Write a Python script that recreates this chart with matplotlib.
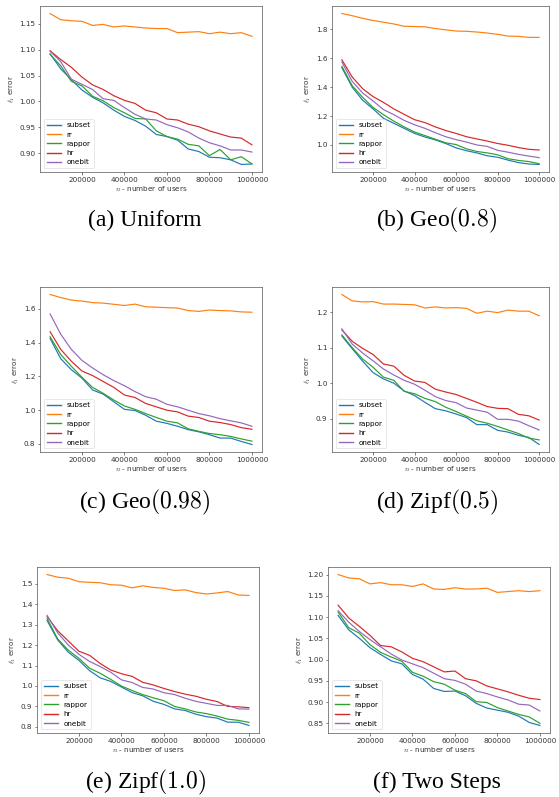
import numpy as np
import matplotlib
matplotlib.use("Agg")
import matplotlib.pyplot as plt
from matplotlib.ticker import ScalarFormatter

plt.rcParams['mathtext.fontset'] = 'cm'

# number of users
n_users = np.arange(50000, 1000001, 50000)
methods = ['subset', 'rr', 'rappor', 'hr', 'onebit']
colors = ['tab:blue', 'tab:orange', 'tab:green', 'tab:red', 'tab:purple']

# (a) Uniform
uniform_subset = [1.092, 1.063, 1.042, 1.022, 1.008, 0.997, 0.983, 0.971, 0.963, 0.952,
                  0.936, 0.932, 0.925, 0.908, 0.903, 0.892, 0.891, 0.887, 0.878, 0.879]
uniform_rr = [1.170, 1.158, 1.156, 1.155, 1.147, 1.149, 1.144, 1.146, 1.144, 1.142,
              1.141, 1.141, 1.133, 1.134, 1.135, 1.131, 1.134, 1.131, 1.133, 1.126]
uniform_rappor = [1.091, 1.069, 1.039, 1.030, 1.010, 1.001, 0.988, 0.978, 0.967, 0.966,
                  0.943, 0.932, 0.927, 0.917, 0.914, 0.895, 0.907, 0.887, 0.893, 0.879]
uniform_hr = [1.098, 1.081, 1.066, 1.047, 1.032, 1.023, 1.011, 1.002, 0.996, 0.983,
              0.978, 0.966, 0.964, 0.956, 0.951, 0.943, 0.937, 0.931, 0.929, 0.916]
uniform_onebit = [1.097, 1.077, 1.043, 1.033, 1.023, 1.005, 1.002, 0.988, 0.975, 0.966,
                  0.964, 0.955, 0.949, 0.941, 0.929, 0.920, 0.914, 0.906, 0.906, 0.902]

# (b) Geo(0.8)
geo08_subset = [1.535, 1.400, 1.310, 1.250, 1.185, 1.150, 1.115, 1.080, 1.055, 1.035,
                1.010, 0.980, 0.960, 0.945, 0.925, 0.915, 0.895, 0.878, 0.868, 0.865]
geo08_rr = [1.910, 1.895, 1.877, 1.862, 1.850, 1.838, 1.822, 1.820, 1.818, 1.806,
            1.797, 1.789, 1.787, 1.782, 1.775, 1.766, 1.754, 1.752, 1.745, 1.745]
geo08_rappor = [1.545, 1.410, 1.330, 1.260, 1.210, 1.165, 1.125, 1.090, 1.065, 1.040,
                1.015, 1.003, 0.973, 0.955, 0.945, 0.932, 0.905, 0.893, 0.885, 0.870]
geo08_hr = [1.590, 1.470, 1.390, 1.335, 1.295, 1.250, 1.212, 1.175, 1.155, 1.125,
            1.100, 1.080, 1.057, 1.042, 1.027, 1.010, 0.998, 0.982, 0.970, 0.965]
geo08_onebit = [1.575, 1.440, 1.360, 1.305, 1.245, 1.210, 1.170, 1.140, 1.115, 1.085,
                1.057, 1.037, 1.020, 1.000, 0.990, 0.963, 0.950, 0.935, 0.923, 0.912]

# (c) Geo(0.98)
geo098_subset = [1.425, 1.305, 1.240, 1.190, 1.120, 1.095, 1.050, 1.005, 0.998, 0.970,
                 0.935, 0.922, 0.905, 0.885, 0.872, 0.855, 0.835, 0.835, 0.815, 0.797]
geo098_rr = [1.685, 1.667, 1.652, 1.646, 1.637, 1.634, 1.627, 1.620, 1.628, 1.612,
             1.610, 1.607, 1.605, 1.590, 1.585, 1.593, 1.590, 1.588, 1.582, 1.580]
geo098_rappor = [1.435, 1.330, 1.260, 1.195, 1.135, 1.100, 1.060, 1.025, 1.005, 0.980,
                 0.957, 0.935, 0.925, 0.890, 0.875, 0.862, 0.855, 0.845, 0.830, 0.817]
geo098_hr = [1.465, 1.360, 1.290, 1.232, 1.205, 1.170, 1.135, 1.090, 1.075, 1.040,
             1.020, 1.000, 0.990, 0.965, 0.957, 0.935, 0.927, 0.915, 0.897, 0.887]
geo098_onebit = [1.570, 1.450, 1.360, 1.295, 1.250, 1.210, 1.175, 1.145, 1.110, 1.080,
                 1.065, 1.035, 1.020, 1.000, 0.980, 0.967, 0.950, 0.937, 0.925, 0.905]

# (d) Zipf(0.5)
zipf05_subset = [1.133, 1.097, 1.062, 1.030, 1.012, 1.000, 0.978, 0.965, 0.946, 0.928,
                 0.922, 0.913, 0.903, 0.883, 0.883, 0.867, 0.862, 0.853, 0.847, 0.827]
zipf05_rr = [1.250, 1.232, 1.229, 1.230, 1.223, 1.223, 1.222, 1.221, 1.212, 1.215,
             1.212, 1.213, 1.211, 1.197, 1.203, 1.199, 1.206, 1.203, 1.203, 1.190]
zipf05_rappor = [1.136, 1.100, 1.068, 1.045, 1.017, 1.008, 0.977, 0.970, 0.957, 0.948,
                 0.932, 0.920, 0.907, 0.894, 0.887, 0.878, 0.868, 0.858, 0.845, 0.840]
zipf05_hr = [1.150, 1.118, 1.098, 1.081, 1.054, 1.048, 1.022, 1.006, 1.002, 0.983,
             0.975, 0.968, 0.957, 0.946, 0.934, 0.929, 0.928, 0.912, 0.908, 0.896]
zipf05_onebit = [1.153, 1.110, 1.085, 1.063, 1.040, 1.023, 1.008, 0.997, 0.980, 0.962,
                 0.951, 0.945, 0.930, 0.924, 0.918, 0.898, 0.898, 0.893, 0.880, 0.868]

# (e) Zipf(1.0)
zipf10_subset = [1.320, 1.225, 1.165, 1.125, 1.075, 1.040, 1.022, 0.995, 0.968, 0.952,
                 0.925, 0.910, 0.888, 0.880, 0.862, 0.850, 0.843, 0.823, 0.823, 0.807]
zipf10_rr = [1.545, 1.532, 1.527, 1.510, 1.507, 1.505, 1.495, 1.493, 1.480, 1.490,
             1.482, 1.478, 1.467, 1.470, 1.457, 1.450, 1.455, 1.462, 1.445, 1.443]
zipf10_rappor = [1.330, 1.230, 1.175, 1.135, 1.087, 1.062, 1.032, 1.000, 0.978, 0.958,
                 0.942, 0.928, 0.900, 0.888, 0.873, 0.865, 0.853, 0.838, 0.832, 0.822]
zipf10_hr = [1.340, 1.270, 1.220, 1.170, 1.150, 1.110, 1.078, 1.060, 1.047, 1.018,
             1.005, 0.988, 0.973, 0.960, 0.950, 0.935, 0.924, 0.900, 0.898, 0.894]
zipf10_onebit = [1.345, 1.260, 1.200, 1.155, 1.120, 1.095, 1.067, 1.030, 1.017, 0.993,
                 0.985, 0.967, 0.958, 0.940, 0.925, 0.915, 0.905, 0.905, 0.888, 0.887]

# (f) Two Steps
two_subset = [1.104, 1.070, 1.050, 1.028, 1.012, 0.997, 0.990, 0.965, 0.954, 0.932,
              0.925, 0.926, 0.915, 0.897, 0.886, 0.881, 0.876, 0.867, 0.852, 0.845]
two_rr = [1.200, 1.192, 1.190, 1.178, 1.181, 1.176, 1.176, 1.172, 1.178, 1.166,
          1.165, 1.169, 1.166, 1.166, 1.168, 1.158, 1.160, 1.162, 1.160, 1.162]
two_rappor = [1.112, 1.075, 1.062, 1.035, 1.017, 1.006, 0.996, 0.970, 0.961, 0.948,
              0.942, 0.928, 0.920, 0.901, 0.899, 0.887, 0.879, 0.871, 0.865, 0.850]
two_hr = [1.128, 1.098, 1.078, 1.057, 1.033, 1.030, 1.018, 1.003, 0.995, 0.983,
          0.971, 0.973, 0.955, 0.950, 0.938, 0.931, 0.924, 0.916, 0.909, 0.906]
two_onebit = [1.115, 1.088, 1.066, 1.047, 1.030, 1.013, 0.999, 0.990, 0.981, 0.968,
              0.955, 0.951, 0.942, 0.926, 0.920, 0.912, 0.905, 0.895, 0.893, 0.879]

captions = ['(a) Uniform', '(b) Geo$(0.8)$', '(c) Geo$(0.98)$',
            '(d) Zipf$(0.5)$', '(e) Zipf$(1.0)$', '(f) Two Steps']
panels = [
    [uniform_subset, uniform_rr, uniform_rappor, uniform_hr, uniform_onebit],
    [geo08_subset, geo08_rr, geo08_rappor, geo08_hr, geo08_onebit],
    [geo098_subset, geo098_rr, geo098_rappor, geo098_hr, geo098_onebit],
    [zipf05_subset, zipf05_rr, zipf05_rappor, zipf05_hr, zipf05_onebit],
    [zipf10_subset, zipf10_rr, zipf10_rappor, zipf10_hr, zipf10_onebit],
    [two_subset, two_rr, two_rappor, two_hr, two_onebit],
]

W, H = 559, 797
fig = plt.figure(figsize=(W / 100, H / 100), dpi=100)

# axes boxes in pixels: left, right, top, bottom
boxes = [(40, 262, 6, 172), (332, 549, 6, 172),
         (40, 262, 287, 452), (332, 549, 287, 452),
         (37, 259, 567, 733), (328, 550, 567, 733)]
cap_pos = [(145, 220), (437, 220), (145, 502), (437, 502), (145, 782), (437, 782)]

fs = 5.2
for i, series in enumerate(panels):
    l, r, t, b = boxes[i]
    ax = fig.add_axes([l / W, 1 - b / H, (r - l) / W, (b - t) / H])
    for name, col, vals in zip(methods, colors, series):
        ax.plot(n_users, vals, color=col, lw=0.85, label=name)
    ax.tick_params(labelsize=fs, length=1.8, width=0.45, pad=1.5, colors='#333333')
    for sp in ax.spines.values():
        sp.set_linewidth(0.5)
        sp.set_color('#555555')
    ax.set_xticks([200000, 400000, 600000, 800000, 1000000])
    fmt = ScalarFormatter(useOffset=False)
    fmt.set_scientific(False)
    ax.xaxis.set_major_formatter(fmt)
    ax.set_xlabel('$n$ - number of users', fontsize=fs, labelpad=1, color='#333333')
    ax.set_ylabel(r'$\ell_1$ error', fontsize=fs, labelpad=2, color='#333333')
    leg = ax.legend(loc='lower left', fontsize=fs, handlelength=2, frameon=True,
                    borderpad=0.4, labelspacing=0.45, handletextpad=0.8)
    leg.get_frame().set_linewidth(0.4)
    for line in leg.get_lines():
        line.set_linewidth(1.0)
    cx, cy = cap_pos[i]
    fig.text(cx / W, 1 - cy / H, captions[i], ha='center', va='center',
             fontsize=17, family='Liberation Serif')

fig.savefig('out.png', dpi=100)
